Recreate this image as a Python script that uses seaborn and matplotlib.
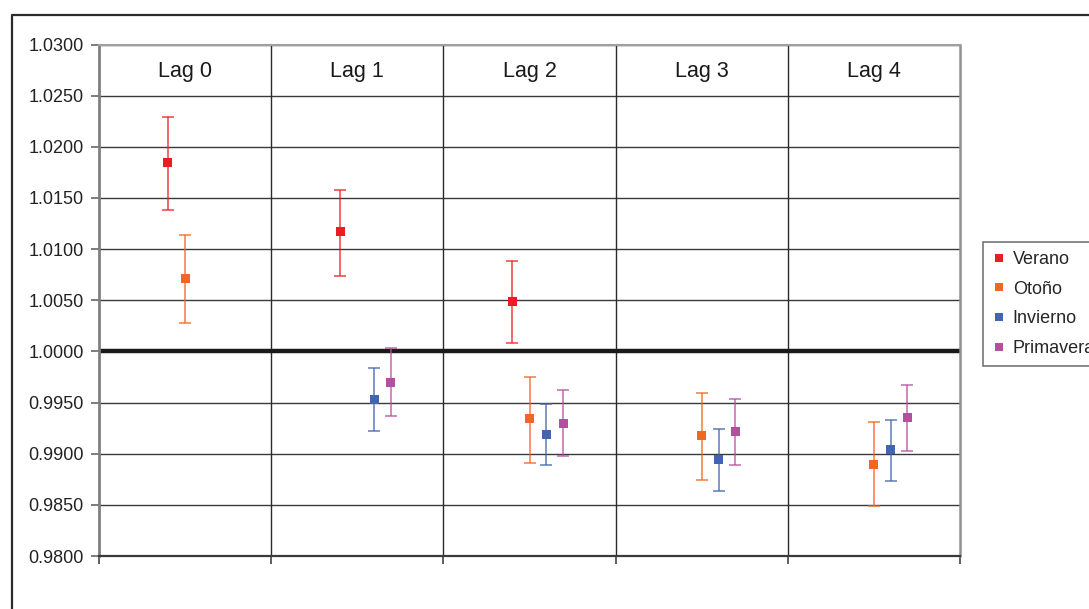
import numpy as np
import pandas as pd
import matplotlib
matplotlib.use("Agg")
import matplotlib.pyplot as plt
from matplotlib.lines import Line2D
from matplotlib.ticker import FormatStrFormatter, FixedLocator
import seaborn as sns

# ---- data -------------------------------------------------------------
lags = ["Lag 0", "Lag 1", "Lag 2", "Lag 3", "Lag 4"]
seasons = ["Verano", "Otoño", "Invierno", "Primavera"]
nan = np.nan

verano = [1.0185, 1.0117, 1.0049, nan, nan]
verano_hi = [1.0229, 1.0158, 1.0088, nan, nan]
verano_lo = [1.0138, 1.0074, 1.0008, nan, nan]

otono = [1.0071, nan, 0.9934, 0.9918, 0.9889]
otono_hi = [1.0114, nan, 0.9975, 0.9959, 0.9931]
otono_lo = [1.0028, nan, 0.9891, 0.9874, 0.9849]

invierno = [nan, 0.9953, 0.9919, 0.9894, 0.9904]
invierno_hi = [nan, 0.9984, 0.9949, 0.9924, 0.9933]
invierno_lo = [nan, 0.9922, 0.9889, 0.9864, 0.9873]

primavera = [nan, 0.9970, 0.9930, 0.9922, 0.9935]
primavera_hi = [nan, 1.0003, 0.9962, 0.9953, 0.9967]
primavera_lo = [nan, 0.9937, 0.9898, 0.9889, 0.9903]

reference = 1.0
y_ticks = [0.9800, 0.9850, 0.9900, 0.9950, 1.0000,
           1.0050, 1.0100, 1.0150, 1.0200, 1.0250, 1.0300]

# ---- styling ------------------------------------------------------------
colors = {"Verano": "#ED1C24", "Otoño": "#F26522",
          "Invierno": "#4165AF", "Primavera": "#B44F9F"}
offsets = {"Verano": -0.10, "Otoño": 0.0, "Invierno": 0.098, "Primavera": 0.195}

sns.set_theme(style="white")
plt.rcParams["font.family"] = ["Liberation Sans", "DejaVu Sans"]

series = {
    "Verano": (verano, verano_lo, verano_hi),
    "Otoño": (otono, otono_lo, otono_hi),
    "Invierno": (invierno, invierno_lo, invierno_hi),
    "Primavera": (primavera, primavera_lo, primavera_hi),
}

rows = []
for s in seasons:
    vals, lo, hi = series[s]
    for i, lag in enumerate(lags):
        if not np.isnan(vals[i]):
            rows.append({"season": s, "lag": lag, "x": i + offsets[s],
                         "value": vals[i], "low": lo[i], "high": hi[i]})
df = pd.DataFrame(rows)

W, H = 1089, 609
fig = plt.figure(figsize=(W / 100, H / 100), dpi=100)
fig.patch.set_facecolor("white")
ax = fig.add_axes([99 / W, 1 - 556 / H, (960 - 99) / W, (556 - 44.5) / H])

# horizontal gridlines
for yv in y_ticks:
    ax.axhline(yv, color="#3a3a3a", lw=1.0, zorder=0)

# error bars
for s in seasons:
    d = df[df["season"] == s]
    ax.errorbar(d["x"], d["value"],
                yerr=[d["value"] - d["low"], d["high"] - d["value"]],
                fmt="none", ecolor=colors[s], elinewidth=1.1,
                capsize=4.5, capthick=1.1, alpha=0.85, zorder=3)

# reference line
ax.axhline(reference, color="#1a1a1a", lw=3.2, zorder=2)

# markers
sns.scatterplot(data=df, x="x", y="value", hue="season", hue_order=seasons,
                palette=colors, marker="s", s=42, linewidth=0,
                ax=ax, zorder=4, legend=False)

ax.set_xlim(-0.5, len(lags) - 0.5)
ax.set_ylim(y_ticks[0], y_ticks[-1])
ax.set_xlabel("")
ax.set_ylabel("")

# group separators
bounds = np.arange(len(lags) + 1) - 0.5
ax.xaxis.set_major_locator(FixedLocator(bounds))
ax.set_xticklabels([])
ax.tick_params(axis="x", direction="out", length=6, width=1.2,
               color="#444444", bottom=True)
for b in bounds[1:-1]:
    ax.axvline(b, color="#2a2a2a", lw=1.0, zorder=0)

ax.set_yticks(y_ticks)
ax.yaxis.set_major_formatter(FormatStrFormatter("%.4f"))
ax.tick_params(axis="y", direction="out", length=6, width=1.2,
               color="#666666", labelsize=13, labelcolor="#222222", pad=5,
               left=True)

for side, (c, w) in {"left": ("#808080", 2.0), "bottom": ("#3a3a3a", 1.6),
                     "top": ("#a0a0a0", 1.5), "right": ("#909090", 1.8)}.items():
    ax.spines[side].set_visible(True)
    ax.spines[side].set_color(c)
    ax.spines[side].set_linewidth(w)

# group titles
for i, lag in enumerate(lags):
    ax.text(i, 1.0274, lag, ha="center", va="center", fontsize=15.5,
            color="#1a1a1a")

# legend
handles = [Line2D([], [], marker="s", linestyle="none", markersize=6,
                  markerfacecolor=colors[s], markeredgewidth=0, label=s)
           for s in seasons]
leg = fig.legend(handles=handles, loc="upper left",
                 bbox_to_anchor=(983 / W, 1 - 242 / H),
                 bbox_transform=fig.transFigure, frameon=True, fancybox=False,
                 fontsize=13, handlelength=0.8, handletextpad=0.35,
                 labelspacing=0.7, borderpad=0.5, borderaxespad=0)
leg.get_frame().set_edgecolor("#555555")
leg.get_frame().set_linewidth(1.2)

# outer chart frame
fig.add_artist(Line2D([12 / W, 12 / W, 1.05], [-0.05, 1 - 14.7 / H, 1 - 14.7 / H],
                      transform=fig.transFigure, color="#2b2b2b", lw=1.6))

fig.savefig("out.png", dpi=100)
